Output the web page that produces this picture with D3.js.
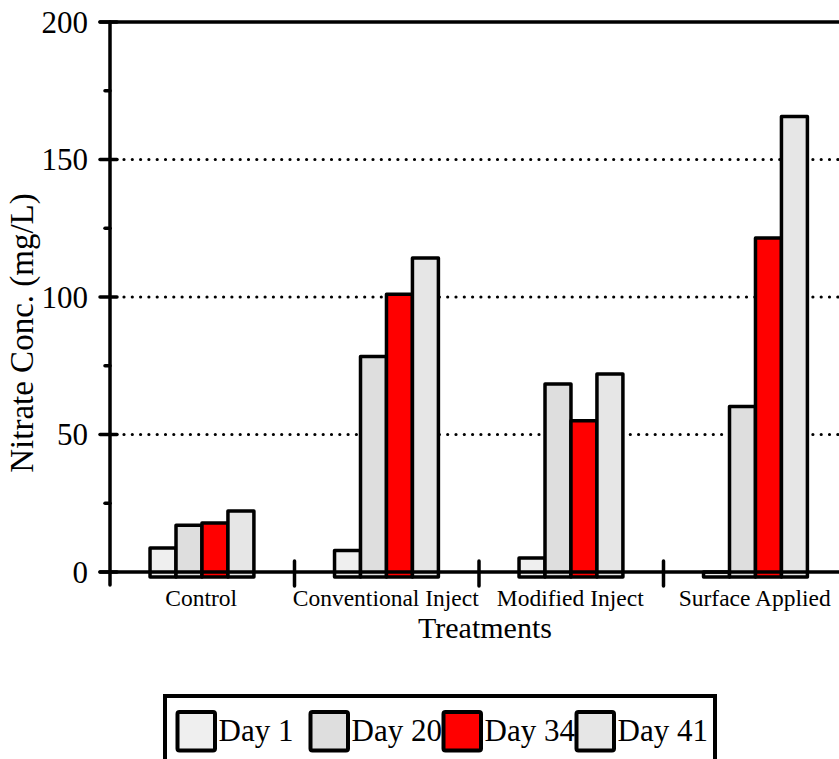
<!DOCTYPE html>
<html><head><meta charset="utf-8">
<script src="https://cdn.jsdelivr.net/npm/d3@7"></script>
<style>
html,body{margin:0;padding:0;background:#fff;}
svg{display:block;font-family:"Liberation Serif","Times New Roman",serif;}
</style></head>
<body>
<svg id="c" width="839" height="759"></svg>
<script>
const categories = ["Control", "Conventional Inject", "Modified Inject", "Surface Applied"];
const seriesNames = ["Day 1", "Day 20", "Day 34", "Day 41"];
const day1  = [8.7, 7.8, 5.1, 0];
const day20 = [17.0, 78.4, 68.4, 60.2];
const day34 = [17.8, 101.0, 55.0, 121.5];
const day41 = [22.2, 114.2, 72.0, 165.6];
const seriesValues = [day1, day20, day34, day41];
const seriesColors = ["#efefef", "#dedede", "#ff0000", "#e6e6e6"];
const yTicks = [0, 50, 100, 150, 200];
const yMinorTicks = [25, 75, 125, 175];
const gridValues = [50, 100, 150];
const barBase = -1.8;

const svg = d3.select("#c");
const W = 839;
const y = d3.scaleLinear().domain([0, 200]).range([572, 22]);
const x = d3.scaleBand().domain(categories).range([110, 848]).padding(0);
const xs = d3.scaleBand().domain(seriesNames)
  .range([x.bandwidth() * 0.217, x.bandwidth() * 0.78]).padding(0);

// gridlines
svg.append("g").selectAll("line").data(gridValues).join("line")
  .attr("x1", 124).attr("x2", W)
  .attr("y1", d => y(d)).attr("y2", d => y(d))
  .attr("stroke", "#000").attr("stroke-width", 3.2)
  .attr("stroke-linecap", "round").attr("stroke-dasharray", "0,8.3");

// bars
const gBars = svg.append("g");
categories.forEach((c, ci) => {
  seriesNames.forEach((s, si) => {
    const v = seriesValues[si][ci];
    const top = y(v), bot = y(barBase);
    gBars.append("rect")
      .attr("x", x(c) + xs(s))
      .attr("y", Math.min(top, bot))
      .attr("width", xs.bandwidth())
      .attr("height", Math.abs(bot - top))
      .attr("fill", seriesColors[si])
      .attr("stroke", "#000").attr("stroke-width", 3.5)
      .attr("stroke-linejoin", "round");
  });
});

// axes lines
const axisG = svg.append("g").attr("stroke", "#000").attr("stroke-linecap", "round");
axisG.append("line").attr("x1", 110).attr("x2", 110).attr("y1", y(200)).attr("y2", 585).attr("stroke-width", 3.5);
axisG.append("line").attr("x1", 100).attr("x2", W + 5).attr("y1", y(0)).attr("y2", y(0)).attr("stroke-width", 3.5);
axisG.append("line").attr("x1", 100).attr("x2", W + 5).attr("y1", y(200)).attr("y2", y(200)).attr("stroke-width", 3.5);
// major ticks
axisG.selectAll(".maj").data(yTicks).join("line")
  .attr("x1", 100).attr("x2", 117).attr("y1", d => y(d)).attr("y2", d => y(d)).attr("stroke-width", 3.5);
// minor ticks
axisG.selectAll(".min").data(yMinorTicks).join("line")
  .attr("x1", 105).attr("x2", 110).attr("y1", d => y(d)).attr("y2", d => y(d)).attr("stroke-width", 3.5);
// category separators
const sep = categories.slice(1).map(c => x(c));
axisG.selectAll(".sep").data(sep).join("line")
  .attr("x1", d => d).attr("x2", d => d).attr("y1", 561).attr("y2", 586).attr("stroke-width", 3.5);

// y tick labels
svg.append("g").selectAll("text").data(yTicks).join("text")
  .attr("x", 88).attr("y", d => y(d)).attr("dy", "0.34em")
  .attr("text-anchor", "end").attr("font-size", 31).text(d => d);

// category labels
svg.append("g").selectAll("text").data(categories).join("text")
  .attr("x", d => x(d) + x.bandwidth() / 2 - 1).attr("y", 606)
  .attr("text-anchor", "middle").attr("font-size", 23.5).text(d => d);

// axis titles
svg.append("text").attr("x", 485).attr("y", 638).attr("text-anchor", "middle")
  .attr("font-size", 30).text("Treatments");
svg.append("text").attr("transform", "translate(33,333) rotate(-90)")
  .attr("text-anchor", "middle").attr("font-size", 33).text("Nitrate Conc. (mg/L)");

// legend
const leg = svg.append("g");
leg.append("rect").attr("x", 165).attr("y", 696).attr("width", 550).attr("height", 90)
  .attr("fill", "none").attr("stroke", "#000").attr("stroke-width", 4);
const lx = d3.scaleBand().domain(seriesNames).range([177.5, 177.5 + 133 * 4]).padding(0);
seriesNames.forEach((s, i) => {
  leg.append("rect").attr("x", lx(s)).attr("y", 712).attr("width", 37.5).attr("height", 38.5)
    .attr("rx", 2).attr("fill", seriesColors[i]).attr("stroke", "#000").attr("stroke-width", 4);
  leg.append("text").attr("x", lx(s) + 41).attr("y", 741).attr("font-size", 31).text(s);
});
</script>
</body></html>
